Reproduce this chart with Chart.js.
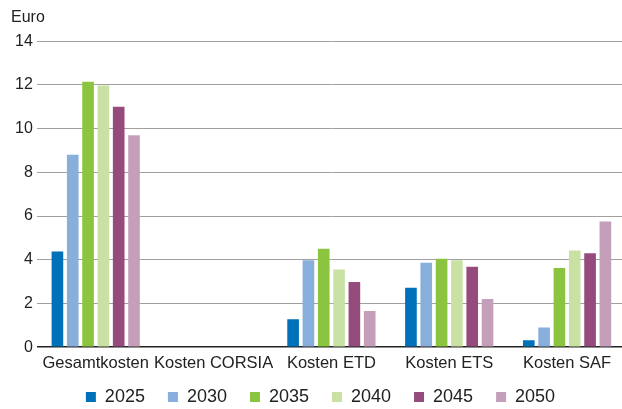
<!DOCTYPE html>
<html>
<head>
<meta charset="utf-8">
<script src="https://cdn.jsdelivr.net/npm/chart.js@4"></script>
<style>
  html, body { margin: 0; padding: 0; background: #fff; overflow: hidden; }
  /* plot runs a few px past the right edge, as in the original */
  #wrap { width: 626px; height: 409px; }
</style>
</head>
<body>
<div id="wrap"><canvas id="costChart"></canvas></div>
<script>
var categories = ["Gesamtkosten", "Kosten CORSIA", "Kosten ETD", "Kosten ETS", "Kosten SAF"];
var years = ["2025", "2030", "2035", "2040", "2045", "2050"];

var v2025 = [4.38, 0.03, 1.28, 2.72, 0.32];
var v2030 = [8.8, 0.03, 3.98, 3.86, 0.9];
var v2035 = [12.15, 0.03, 4.5, 4.05, 3.62];
var v2040 = [11.97, 0.03, 3.55, 3.98, 4.42];
var v2045 = [11.0, 0.03, 2.98, 3.68, 4.3];
var v2050 = [9.7, 0.03, 1.66, 2.2, 5.75];

var yTicks = [0, 2, 4, 6, 8, 10, 12, 14];

var colors = ['#0070b8', '#88aedc', '#8bc43f', '#c9e2a4', '#954b7b', '#c59fba'];
var series = [v2025, v2030, v2035, v2040, v2045, v2050];

Chart.defaults.font.family = "'Liberation Sans', Arial, sans-serif";
Chart.defaults.font.size = 16;
Chart.defaults.color = '#222';

// legend sits tighter under the axis labels than chart.js allows by default
var SHRINK = 21, LIFT = 14;
var legendTweak = {
    id: 'legendTweak',
    beforeInit(chart) {
        const fit = chart.legend.fit;
        chart.legend.fit = function () {
            fit.call(this);
            this.height -= SHRINK;
        };
    },
    afterLayout(chart) {
        const lg = chart.legend;
        lg.top -= LIFT;
        lg.bottom = lg.top + lg.height + SHRINK;
        lg.left += 2;
        lg.right += 2;
    }
};

new Chart(document.getElementById('costChart'), {
    type: 'bar',
    data: {
        labels: categories,
        datasets: years.map((y, i) => ({
            label: y,
            data: series[i],
            backgroundColor: colors[i],
            borderWidth: 0,
            categoryPercentage: 0.78,
            barPercentage: 0.76
        }))
    },
    options: {
        responsive: true,
        maintainAspectRatio: false,
        animation: false,
        layout: { padding: { left: 11, right: 0, top: 0, bottom: 0 } },
        scales: {
            x: {
                grid: { display: false, drawTicks: false },
                border: { display: false },
                ticks: { padding: 6, maxRotation: 0, autoSkip: false, font: { size: 16.5 } }
            },
            y: {
                min: 0,
                max: 14,
                afterBuildTicks: axis => { axis.ticks = yTicks.map(v => ({ value: v })); },
                border: { display: false },
                grid: {
                    drawTicks: false,
                    color: ctx => ctx.tick && ctx.tick.value === 0 ? '#222' : '#a0a0a0',
                    lineWidth: ctx => ctx.tick && ctx.tick.value === 0 ? 1.5 : 1
                },
                ticks: { padding: 4 }
            }
        },
        plugins: {
            title: {
                display: true,
                text: 'Euro',
                align: 'start',
                font: { size: 16, weight: 'normal' },
                padding: { top: 8, bottom: 14 }
            },
            legend: {
                position: 'bottom',
                labels: {
                    boxWidth: 10,
                    boxHeight: 10,
                    padding: 23,
                    font: { size: 18 }
                }
            },
            tooltip: { enabled: false }
        }
    },
    plugins: [legendTweak]
});
</script>
</body>
</html>
